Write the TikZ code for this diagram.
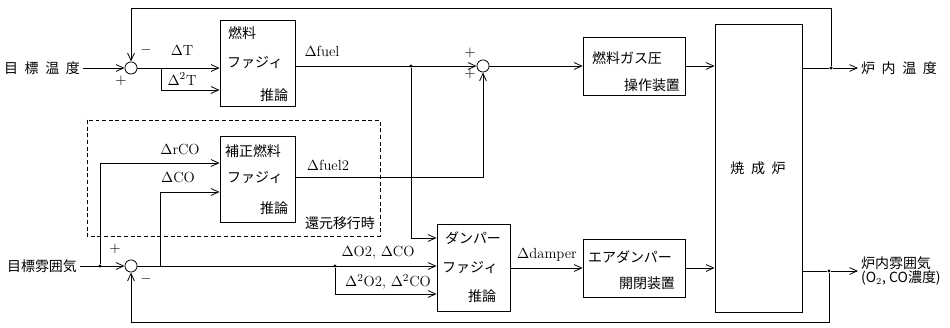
\documentclass[tikz,border=0pt]{standalone}
\usepackage{fontspec}
\newfontfamily\jp{Noto Sans CJK JP}
\newcommand\jgap{\hspace{5pt}}
\usetikzlibrary{arrows.meta,positioning}

\begin{document}
\begin{tikzpicture}[x=0.0264cm,y=-0.0264cm,line width=0.6pt,
  >={Straight Barb[length=2mm,width=1.8mm]},
  box/.style={draw,inner sep=0},
  sumc/.style={draw,circle,inner sep=0,minimum size=0.32cm},
  dot/.style={circle,fill,inner sep=0,minimum size=2.6pt},
  jtxt/.style={font=\jp\fontsize{10.5}{12}\selectfont,inner sep=0},
  sig/.style={font=\fontsize{11}{13}\selectfont,inner sep=0}]
\useasboundingbox (0,0) rectangle (950,328);
% blocks
\node[box,minimum width=1.98cm,minimum height=2.27cm] (fuel) at (257.5,63) {};
\node[box,minimum width=1.98cm,minimum height=2.27cm] (hosei) at (257.5,179) {};
\node[box,minimum width=2.69cm,minimum height=1.53cm] (gas) at (634,66) {};
\node[box,minimum width=1.93cm,minimum height=2.30cm] (damp) at (473.5,267.5) {};
\node[box,minimum width=2.69cm,minimum height=1.53cm] (air) at (634,268) {};
\node[box,minimum width=2.30cm,minimum height=7.60cm] (furn) at (758.5,168) {};
% block texts
\node[jtxt] (fuel-a) at (242,33) {燃料};
\node[jtxt] (fuel-b) at (255,63) {ファジィ};
\node[jtxt] (fuel-c) at (274,95) {推論};
\node[jtxt] (hosei-a) at (253,151) {補正燃料};
\node[jtxt] (hosei-b) at (255,178) {ファジィ};
\node[jtxt] (hosei-c) at (274,208) {推論};
\node[jtxt] (gas-a) at (627,58) {燃料ガス圧};
\node[jtxt] (gas-b) at (652,85) {操作装置};
\node[jtxt] (damp-a) at (473,238) {ダンパー};
\node[jtxt] (damp-b) at (470,268) {ファジィ};
\node[jtxt] (damp-c) at (482,296) {推論};
\node[jtxt] (air-a) at (630,257) {エアダンパー};
\node[jtxt] (air-b) at (647,283) {開閉装置};
\node[jtxt] (furn-a) at (758,168) {焼\jgap 成\jgap 炉};
% summing points
\node[sumc] (sumT) at (131,68) {};
\node[sumc] (sumF) at (483,66) {};
\node[sumc] (sumA) at (131,266) {};
% branch points
\node[dot] (jT) at (831,68) {};
\node[dot] (jA) at (829,271) {};
\node[dot] (jF) at (411,66) {};
\node[dot] (jO) at (335,266) {};
\node[dot] (jR) at (100,266) {};
\coordinate (bT) at (161,68);
\coordinate (jC) at (160,266);
% inputs and outputs
\node[jtxt,inner sep=2pt] (tin) at (42,68) {目\jgap 標\jgap 温\jgap 度};
\node[jtxt,inner sep=2pt] (ain) at (42,266) {目標雰囲気};
\node[jtxt,inner sep=2pt,anchor=west] (tout) at (858,68) {炉\jgap 内\jgap 温\jgap 度};
\node[jtxt,inner sep=2pt,anchor=west,align=left,font=\jp\fontsize{10.5}{10}\selectfont] (aout) at (858,271) {炉内雰囲気\\(O$_2$, CO濃度)};
% temperature loop
\draw[->] (tin.east) -- (sumT.west);
\draw[->] (sumT.east) -- (sumT.east -| fuel.west);
\draw[->] (bT) |- (fuel.west |- 0,90);
\draw[->] (fuel.east |- sumF) -- (sumF.west);
\draw[->] (sumF.east) -- (gas.west);
\draw[->] (gas.east) -- (gas.east -| furn.west);
\draw (furn.east |- jT) -- (jT);
\draw[->] (jT) -- (tout.west);
\draw[->] (jT) -- (jT |- 0,8) -| (sumT.north);
% atmosphere loop
\draw[->] (ain.east) -- (sumA.west);
\draw[->] (jR) |- (hosei.west |- 0,163);
\draw[->] (jC) |- (hosei.west |- 0,192);
\draw[->] (hosei.east |- 0,177) -| (sumF.south);
\draw[->] (sumA.east) -- (sumA.east -| damp.west);
\draw[->] (jO) |- (damp.west |- 0,294);
\draw[->] (jF) |- (damp.west |- 0,238);
\draw[->] (damp.east |- air.west) -- (air.west);
\draw[->] (air.east) -- (air.east -| furn.west);
\draw (furn.east |- jA) -- (jA);
\draw[->] (jA) -- (aout.west |- jA);
\draw[->] (jA) -- (jA |- 0,322) -| (sumA.south);
% reducing mode frame
\draw[line width=0.5pt,dash pattern=on 3pt off 2pt] (87,120) rectangle (380,236);
\node[jtxt] (mode) at (340,223) {還元移行時};
% signal labels
\node[sig] (lT) at (182,51) {$\Delta$T};
\node[sig] (lT2) at (182,79) {$\Delta^2$T};
\node[sig] (lfuel) at (322,51) {$\Delta$fuel};
\node[sig] (lfuel2) at (328,165) {$\Delta$fuel2};
\node[sig] (lrCO) at (180,150) {$\Delta$rCO};
\node[sig] (lCO) at (178,178) {$\Delta$CO};
\node[sig] (lO) at (378,253) {$\Delta$O2, $\Delta$CO};
\node[sig] (lO2) at (388,282) {$\Delta^2$O2, $\Delta^2$CO};
\node[sig] (ldamp) at (547,255) {$\Delta$damper};
% signs
\node[sig] (sT1) at (146,50) {$-$};
\node[sig] (sT2) at (121,81) {$+$};
\node[sig] (sF1) at (470,53) {$+$};
\node[sig] (sF2) at (470,74) {$+$};
\node[sig] (sA1) at (115,249) {$+$};
\node[sig] (sA2) at (146,279) {$-$};
\end{tikzpicture}
\end{document}
